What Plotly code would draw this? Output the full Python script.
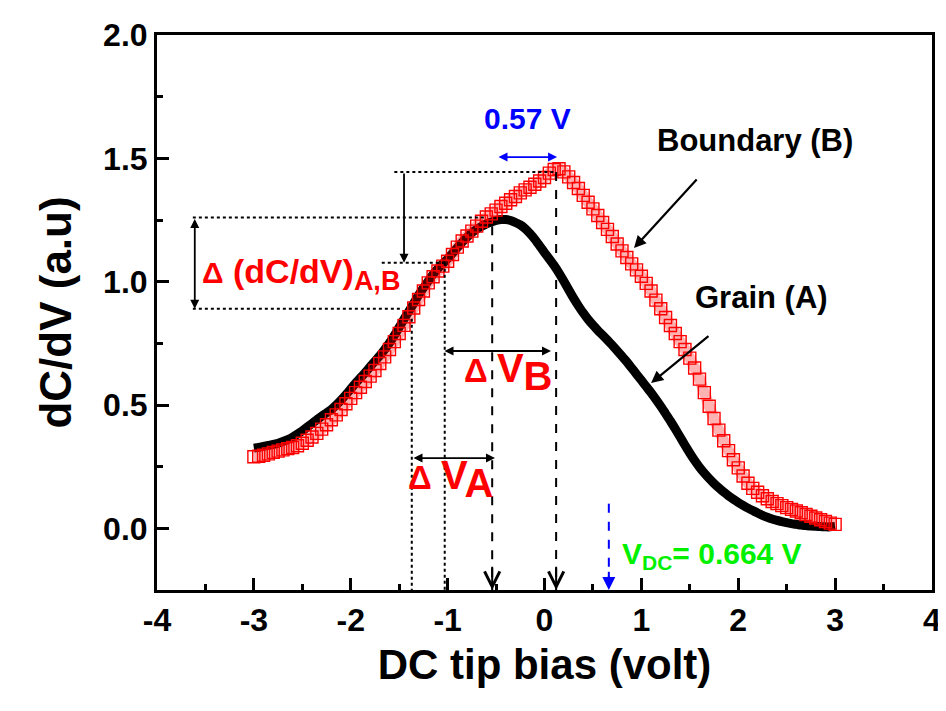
import plotly.graph_objects as go

# DC tip bias (V) sampling positions
bias = [
    -3.00, -2.95, -2.90, -2.85, -2.80, -2.75, -2.70, -2.65, -2.60, -2.55,
    -2.50, -2.45, -2.40, -2.35, -2.30, -2.25, -2.20, -2.15, -2.10, -2.05,
    -2.00, -1.95, -1.90, -1.85, -1.80, -1.75, -1.70, -1.65, -1.60, -1.55,
    -1.50, -1.45, -1.40, -1.35, -1.30, -1.25, -1.20, -1.15, -1.10, -1.05,
    -1.00, -0.95, -0.90, -0.85, -0.80, -0.75, -0.70, -0.65, -0.60, -0.55,
    -0.50, -0.45, -0.40, -0.35, -0.30, -0.25, -0.20, -0.15, -0.10, -0.05,
    0.00, 0.05, 0.10, 0.15, 0.20, 0.25, 0.30, 0.35, 0.40, 0.45,
    0.50, 0.55, 0.60, 0.65, 0.70, 0.75, 0.80, 0.85, 0.90, 0.95,
    1.00, 1.05, 1.10, 1.15, 1.20, 1.25, 1.30, 1.35, 1.40, 1.45,
    1.50, 1.55, 1.60, 1.65, 1.70, 1.75, 1.80, 1.85, 1.90, 1.95,
    2.00, 2.05, 2.10, 2.15, 2.20, 2.25, 2.30, 2.35, 2.40, 2.45,
    2.50, 2.55, 2.60, 2.65, 2.70, 2.75, 2.80, 2.85, 2.90, 2.95,
    3.00,
]

# Grain (A), black
grain_a = [
    0.325, 0.328, 0.332, 0.336, 0.340, 0.345, 0.352, 0.360, 0.370, 0.382,
    0.395, 0.410, 0.425, 0.440, 0.455, 0.468, 0.482, 0.500, 0.520, 0.542,
    0.565, 0.588, 0.610, 0.632, 0.655, 0.678, 0.700, 0.725, 0.752, 0.782,
    0.815, 0.848, 0.880, 0.912, 0.945, 0.975, 1.002, 1.030, 1.053, 1.073,
    1.093, 1.115, 1.138, 1.160, 1.180, 1.198, 1.212, 1.224, 1.234, 1.242,
    1.248, 1.252, 1.252, 1.248, 1.240, 1.230, 1.215, 1.195, 1.172, 1.145,
    1.118, 1.092, 1.065, 1.035, 1.002, 0.967, 0.933, 0.902, 0.873, 0.847,
    0.824, 0.803, 0.783, 0.763, 0.742, 0.720, 0.698, 0.675, 0.650, 0.625,
    0.600, 0.575, 0.550, 0.523, 0.495, 0.465, 0.435, 0.403, 0.370, 0.337,
    0.305, 0.275, 0.248, 0.224, 0.202, 0.182, 0.164, 0.147, 0.132, 0.118,
    0.105, 0.093, 0.082, 0.072, 0.062, 0.053, 0.045, 0.038, 0.032, 0.027,
    0.023, 0.019, 0.016, 0.013, 0.011, 0.009, 0.008, 0.007, 0.006, 0.006,
    0.008,
]

# Boundary (B), red open squares
boundary_b = [
    0.290, 0.292, 0.296, 0.302, 0.308, 0.313, 0.318, 0.323, 0.328, 0.335,
    0.345, 0.357, 0.370, 0.385, 0.402, 0.420, 0.440, 0.460, 0.482, 0.505,
    0.527, 0.550, 0.572, 0.595, 0.617, 0.640, 0.668, 0.695, 0.725, 0.757,
    0.790, 0.823, 0.858, 0.893, 0.928, 0.962, 0.995, 1.020, 1.043, 1.063,
    1.083, 1.110, 1.140, 1.165, 1.185, 1.205, 1.225, 1.245, 1.262, 1.275,
    1.290, 1.305, 1.318, 1.332, 1.345, 1.360, 1.372, 1.383, 1.395, 1.408,
    1.422, 1.440, 1.455, 1.458, 1.445, 1.425, 1.402, 1.378, 1.350, 1.322,
    1.295, 1.268, 1.240, 1.212, 1.183, 1.153, 1.125, 1.098, 1.072, 1.048,
    1.022, 0.993, 0.962, 0.925, 0.890, 0.855, 0.822, 0.790, 0.757, 0.725,
    0.690, 0.650, 0.605, 0.550, 0.495, 0.445, 0.398, 0.355, 0.315, 0.278,
    0.245, 0.212, 0.183, 0.162, 0.146, 0.132, 0.120, 0.109, 0.100, 0.092,
    0.084, 0.077, 0.070, 0.063, 0.056, 0.049, 0.042, 0.035, 0.028, 0.021,
    0.016,
]

x_ticks = [-4, -3, -2, -1, 0, 1, 2, 3, 4]
x_tick_labels = ["-4", "-3", "-2", "-1", "0", "1", "2", "3", "4"]
y_ticks = [0.0, 0.5, 1.0, 1.5, 2.0]
y_tick_labels = ["0.0", "0.5", "1.0", "1.5", "2.0"]

# values marked on the chart
peak_a = (-0.54, 1.245)
peak_b = (0.12, 1.445)
v_dc = 0.664
half_a = (-1.37, 0.89)
half_b = (-1.03, 1.077)
y_bottom = -0.25

RED = "#ff0000"
BLUE = "#0000ff"
GREEN = "#00f000"
FONT = "Arial, Liberation Sans, sans-serif"

fig = go.Figure()

fig.add_trace(go.Scatter(x=bias, y=grain_a, mode="lines",
                         line=dict(color="black", width=9, shape="spline", smoothing=0.6),
                         name="Grain (A)"))
# pale band under the squares, like the hatching of the overlapping markers
fig.add_trace(go.Scatter(x=bias, y=boundary_b, mode="lines", hoverinfo="skip",
                         line=dict(color="rgba(255,0,0,0.3)", width=11, shape="spline",
                                   smoothing=0.6)))
fig.add_trace(go.Scatter(x=bias, y=boundary_b, mode="markers",
                         marker=dict(symbol="square-open", size=12, color=RED,
                                     line=dict(width=1.4, color=RED)),
                         name="Boundary (B)"))

shapes = []


def vline(x, y0, y1, dash, color="black", width=2):
    shapes.append(dict(type="line", xref="x", yref="y", x0=x, x1=x, y0=y0, y1=y1,
                       line=dict(color=color, width=width, dash=dash)))


def hline(y, x0, x1, dash="dot", color="black", width=2):
    shapes.append(dict(type="line", xref="x", yref="y", x0=x0, x1=x1, y0=y, y1=y,
                       line=dict(color=color, width=width, dash=dash)))


# dotted guides
hline(peak_b[1], -1.55, peak_b[0])
hline(1.26, -3.63, -0.62)
hline(half_b[1], -1.68, half_b[0])
hline(half_a[1], -3.63, -1.47)
vline(half_b[0], half_b[1], y_bottom, "dot")
vline(half_a[0], 0.85, y_bottom, "dot")
# dashed drops to the axis
vline(peak_a[0], 1.225, y_bottom, "dash")
vline(peak_b[0], peak_b[1], y_bottom, "dash")
vline(v_dc, 0.10, y_bottom, "dash", color=BLUE)

annotations = []


def arrow(x, y, ax, ay, color="black", head=2, both=False, size=1.0, width=1.8):
    a = dict(x=x, y=y, ax=ax, ay=ay, xref="x", yref="y", axref="x", ayref="y",
             text="", showarrow=True, arrowhead=head, arrowsize=size,
             arrowwidth=width, arrowcolor=color, standoff=0, startstandoff=0)
    if both:
        a["arrowside"] = "end+start"
        a["startarrowhead"] = head
        a["startarrowsize"] = size
    annotations.append(a)


def label(x, y, text, color="black", size=31, anchor="center"):
    annotations.append(dict(x=x, y=y, xref="x", yref="y", text=text, showarrow=False,
                            xanchor=anchor, yanchor="middle",
                            font=dict(family=FONT, size=size, color=color, weight="bold")))


# arrow heads on the dashed drops
arrow(peak_a[0], y_bottom, peak_a[0], -0.15, head=5, size=1.5, width=2)
arrow(peak_b[0], y_bottom, peak_b[0], -0.15, head=5, size=1.5, width=2)
arrow(v_dc, y_bottom, v_dc, -0.17, color=BLUE, head=2, size=1.3, width=2)

# difference arrows
arrow(-3.61, half_a[1], -3.61, 1.26, both=True)
arrow(-1.45, half_b[1], -1.45, peak_b[1])
arrow(0.067, 0.719, -1.048, 0.719, both=True)
arrow(-0.511, 0.285, -1.368, 0.285, both=True)
arrow(peak_b[0] + 0.01, 1.505, -0.49, 1.505, color=BLUE, both=True)

# curve pointers
arrow(0.924, 1.136, 1.585, 1.42, size=1.1, width=2.2)
arrow(1.10, 0.589, 1.708, 0.784, size=1.1, width=2.2)

label(-0.18, 1.66, "0.57 V", color=BLUE, size=30)
label(2.17, 1.574, "Boundary (B)")
label(2.245, 0.934, "Grain (A)")
label(-3.556, 1.03,
      "<span style='font-size:30px'>Δ</span> (dC/dV)<sub><span style='font-size:27px'>A,B</span></sub>",
      color=RED, size=34, anchor="left")
label(-0.852, 0.635,
      "<span style='font-size:33px'>Δ </span>V<sub><span style='font-size:40px'>B</span></sub>",
      color=RED, size=40, anchor="left")
label(-1.43, 0.20,
      "<span style='font-size:33px'>Δ </span>V<sub><span style='font-size:40px'>A</span></sub>",
      color=RED, size=40, anchor="left")
label(0.78, -0.11, "V<sub>DC</sub>= 0.664 V", color=GREEN, size=30, anchor="left")

axis_common = dict(showgrid=False, zeroline=False, showline=True, linecolor="black",
                   linewidth=3, mirror=True, ticks="inside", ticklen=12, tickwidth=3,
                   tickcolor="black", automargin=False,
                   tickfont=dict(family=FONT, size=32, color="black", weight="bold"))

# the page body adds an 8 px offset, so the figure is 8 px smaller and shifted margins
fig.update_layout(
    width=938, height=703,
    margin=dict(l=149, r=14, t=27, b=121),
    plot_bgcolor="white", paper_bgcolor="white",
    showlegend=False,
    font=dict(family=FONT, color="black", weight="bold"),
    shapes=shapes,
    annotations=annotations,
    xaxis=dict(axis_common, range=[-4, 4], tickvals=x_ticks, ticktext=x_tick_labels,
               minor=dict(ticks="inside", ticklen=6, tickwidth=3, tickcolor="black",
                          dtick=0.5, tick0=0, showgrid=False),
               title=dict(text="DC tip bias (volt)", standoff=13,
                          font=dict(family=FONT, size=42, color="black", weight="bold"))),
    yaxis=dict(axis_common, range=[y_bottom, 2.0], tickvals=y_ticks, ticktext=y_tick_labels,
               minor=dict(ticks="inside", ticklen=6, tickwidth=3, tickcolor="black",
                          dtick=0.25, tick0=0, showgrid=False),
               title=dict(text="dC/dV (a.u)", standoff=18,
                          font=dict(family=FONT, size=44, color="black", weight="bold"))),
)

fig.write_html("out.html")
